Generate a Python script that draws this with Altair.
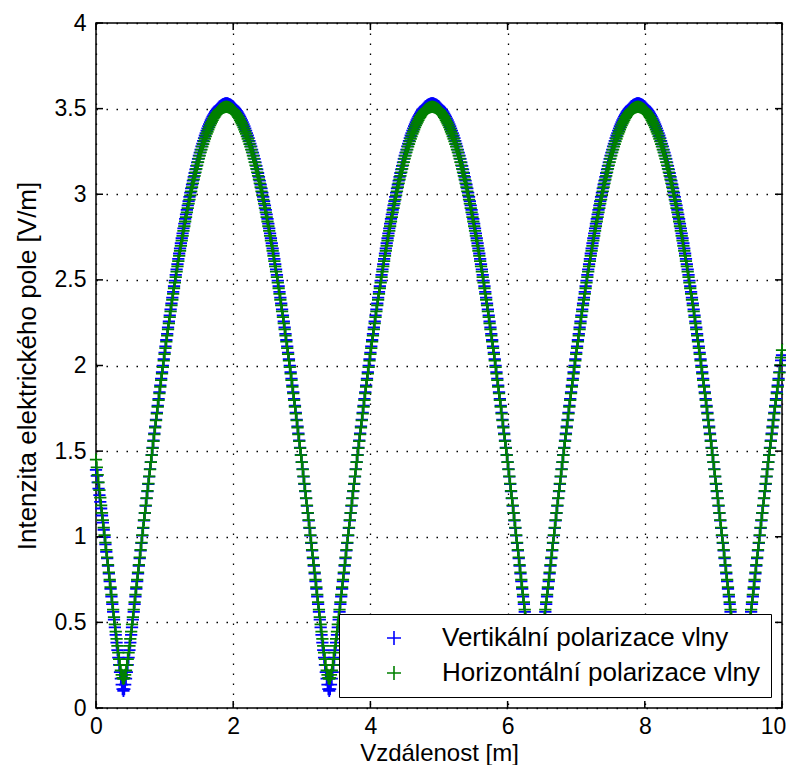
import altair as alt
import pandas as pd

# ---------------- data ----------------
STEP = 0.0125  # sampling step along x [m]

names = ["Vertikální polarizace vlny", "Horizontální polarizace vlny"]
colors = ["#0000ff", "#008000"]
x_ticks = [0, 2, 4, 6, 8, 10]
y_ticks = [0, 0.5, 1, 1.5, 2, 2.5, 3, 3.5, 4]

# ---- Vertical polarisation ----
# x = 0 .. 0.4 (falling into the first minimum)
vert_start = [1.390, 1.355, 1.318, 1.281, 1.243, 1.204, 1.165, 1.124, 1.083, 1.041, 0.998, 0.955, 0.912,
              0.874, 0.830, 0.785, 0.740, 0.696, 0.651, 0.606, 0.561, 0.516, 0.471, 0.427, 0.382, 0.338,
              0.294, 0.252, 0.210, 0.171, 0.136, 0.110, 0.100]
# minimum -> maximum (1.5 m)
vert_rise = [0.110, 0.136, 0.171, 0.210, 0.252, 0.294, 0.338, 0.382, 0.427, 0.471,
             0.516, 0.561, 0.606, 0.651, 0.696, 0.740, 0.785, 0.830, 0.874, 0.919,
             0.963, 1.007, 1.051, 1.095, 1.138, 1.180, 1.224, 1.265, 1.308, 1.351,
             1.395, 1.436, 1.478, 1.520, 1.562, 1.603, 1.644, 1.684, 1.725, 1.765,
             1.805, 1.844, 1.884, 1.923, 1.961, 1.999, 2.037, 2.075, 2.112, 2.149,
             2.185, 2.222, 2.257, 2.293, 2.328, 2.362, 2.396, 2.430, 2.463, 2.496,
             2.529, 2.561, 2.592, 2.623, 2.654, 2.684, 2.714, 2.743, 2.772, 2.801,
             2.829, 2.856, 2.883, 2.909, 2.935, 2.960, 2.985, 3.010, 3.034, 3.057,
             3.080, 3.102, 3.124, 3.145, 3.166, 3.186, 3.206, 3.225, 3.243, 3.261,
             3.279, 3.296, 3.312, 3.328, 3.343, 3.357, 3.371, 3.385, 3.398, 3.410,
             3.421, 3.432, 3.443, 3.453, 3.462, 3.471, 3.479, 3.487, 3.494, 3.500,
             3.506, 3.511, 3.515, 3.519, 3.522, 3.525, 3.527, 3.529, 3.530, 3.530]
# maximum -> minimum (1.5 m)
vert_fall = [3.530, 3.529, 3.527, 3.525, 3.522, 3.519, 3.515, 3.511, 3.506, 3.500,
             3.494, 3.487, 3.479, 3.471, 3.462, 3.453, 3.443, 3.432, 3.421, 3.410,
             3.398, 3.385, 3.371, 3.357, 3.343, 3.328, 3.312, 3.296, 3.279, 3.261,
             3.243, 3.225, 3.206, 3.186, 3.166, 3.145, 3.124, 3.102, 3.080, 3.057,
             3.034, 3.010, 2.985, 2.960, 2.935, 2.909, 2.883, 2.856, 2.829, 2.801,
             2.772, 2.743, 2.714, 2.684, 2.654, 2.623, 2.592, 2.561, 2.529, 2.496,
             2.463, 2.430, 2.396, 2.362, 2.328, 2.293, 2.257, 2.222, 2.185, 2.149,
             2.112, 2.075, 2.037, 1.999, 1.961, 1.923, 1.884, 1.844, 1.805, 1.765,
             1.725, 1.684, 1.644, 1.603, 1.562, 1.520, 1.478, 1.436, 1.395, 1.351,
             1.308, 1.265, 1.224, 1.180, 1.138, 1.095, 1.051, 1.007, 0.963, 0.919,
             0.874, 0.830, 0.785, 0.740, 0.696, 0.651, 0.606, 0.561, 0.516, 0.471,
             0.427, 0.382, 0.338, 0.294, 0.252, 0.210, 0.171, 0.136, 0.110, 0.100]
# x = 9.4125 .. 10 (last rise, cut by the axis)
vert_end = [0.110, 0.136, 0.171, 0.210, 0.252, 0.294, 0.338, 0.382, 0.427, 0.471,
            0.516, 0.561, 0.606, 0.651, 0.696, 0.740, 0.785, 0.830, 0.874, 0.919,
            0.963, 1.007, 1.051, 1.095, 1.138, 1.180, 1.224, 1.265, 1.308, 1.351,
            1.395, 1.436, 1.478, 1.520, 1.562, 1.603, 1.644, 1.684, 1.725, 1.765,
            1.805, 1.844, 1.884, 1.923, 1.961, 1.999, 2.030, 2.060]

# ---- Horizontal polarisation ----
horz_start = [1.450, 1.405, 1.361, 1.317, 1.272, 1.228, 1.183, 1.140, 1.097, 1.053, 1.010, 0.966, 0.923,
              0.880, 0.836, 0.792, 0.749, 0.705, 0.662, 0.618, 0.574, 0.531, 0.488, 0.446, 0.404, 0.363,
              0.323, 0.285, 0.250, 0.219, 0.193, 0.176, 0.170]
horz_rise = [0.176, 0.193, 0.219, 0.250, 0.285, 0.323, 0.363, 0.404, 0.446, 0.488,
             0.531, 0.574, 0.618, 0.662, 0.705, 0.749, 0.792, 0.836, 0.880, 0.923,
             0.966, 1.010, 1.053, 1.097, 1.140, 1.183, 1.225, 1.268, 1.310, 1.352,
             1.394, 1.436, 1.477, 1.518, 1.558, 1.598, 1.638, 1.679, 1.719, 1.759,
             1.798, 1.837, 1.876, 1.915, 1.953, 1.991, 2.028, 2.066, 2.102, 2.139,
             2.175, 2.211, 2.246, 2.282, 2.316, 2.351, 2.384, 2.418, 2.451, 2.484,
             2.516, 2.548, 2.579, 2.610, 2.640, 2.670, 2.699, 2.729, 2.757, 2.786,
             2.813, 2.841, 2.867, 2.894, 2.919, 2.945, 2.969, 2.994, 3.017, 3.041,
             3.063, 3.086, 3.107, 3.128, 3.148, 3.169, 3.188, 3.208, 3.226, 3.244,
             3.261, 3.278, 3.293, 3.309, 3.324, 3.338, 3.352, 3.365, 3.378, 3.390,
             3.402, 3.413, 3.423, 3.433, 3.443, 3.451, 3.459, 3.467, 3.474, 3.480,
             3.486, 3.491, 3.495, 3.499, 3.502, 3.505, 3.507, 3.509, 3.510, 3.510]
horz_fall = [3.510, 3.509, 3.507, 3.505, 3.502, 3.499, 3.495, 3.491, 3.486, 3.480,
             3.474, 3.467, 3.459, 3.451, 3.443, 3.433, 3.423, 3.413, 3.402, 3.390,
             3.378, 3.365, 3.352, 3.338, 3.324, 3.309, 3.293, 3.278, 3.261, 3.244,
             3.226, 3.208, 3.188, 3.169, 3.148, 3.128, 3.107, 3.086, 3.063, 3.041,
             3.017, 2.994, 2.969, 2.945, 2.919, 2.894, 2.867, 2.841, 2.813, 2.786,
             2.757, 2.729, 2.699, 2.670, 2.640, 2.610, 2.579, 2.548, 2.516, 2.484,
             2.451, 2.418, 2.384, 2.351, 2.316, 2.282, 2.246, 2.211, 2.175, 2.139,
             2.102, 2.066, 2.028, 1.991, 1.953, 1.915, 1.876, 1.837, 1.798, 1.759,
             1.719, 1.679, 1.638, 1.598, 1.558, 1.518, 1.477, 1.436, 1.394, 1.352,
             1.310, 1.268, 1.225, 1.183, 1.140, 1.097, 1.053, 1.010, 0.966, 0.923,
             0.880, 0.836, 0.792, 0.749, 0.705, 0.662, 0.618, 0.574, 0.531, 0.488,
             0.446, 0.404, 0.363, 0.323, 0.285, 0.250, 0.219, 0.193, 0.176, 0.170]
horz_end = [0.176, 0.193, 0.219, 0.250, 0.285, 0.323, 0.363, 0.404, 0.446, 0.488,
            0.531, 0.574, 0.618, 0.662, 0.705, 0.749, 0.792, 0.836, 0.880, 0.923,
            0.966, 1.010, 1.053, 1.097, 1.140, 1.183, 1.225, 1.268, 1.310, 1.352,
            1.394, 1.436, 1.477, 1.518, 1.558, 1.598, 1.638, 1.679, 1.719, 1.759,
            1.798, 1.837, 1.876, 1.915, 1.958, 2.002, 2.046, 2.090]

# three full periods between the first minimum (0.4 m) and the last one (9.4 m)
vertical = vert_start + (vert_rise + vert_fall) * 3 + vert_end
horizontal = horz_start + (horz_rise + horz_fall) * 3 + horz_end

# ---------------- table ----------------
rows = []
idx = 0
for name, ys in zip(names, [vertical, horizontal]):
    for i, v in enumerate(ys):
        rows.append({"x": round(i * STEP, 4), "y": v, "series": name, "idx": idx})
        idx += 1
df = pd.DataFrame(rows)

xt = pd.DataFrame({"x": x_ticks})
yt = pd.DataFrame({"y": y_ticks})

W, H = 686, 685
FONT = "Liberation Sans"
PLUS = "M-1,0H1M0,-1V1"
TL = 7  # inward tick length

x_axis = alt.Axis(values=x_ticks, format="d", title="Vzdálenost [m]", labelFlush=False,
                  labelOffset={"condition": {"test": "datum.value == 10", "value": -9}, "value": 0},
                  titleY=52, titleBaseline="alphabetic", titleFontSize=24, labelPadding=7)
y_axis = alt.Axis(values=y_ticks, format="~g", title="Intenzita elektrického pole [V/m]", labelFlush=False,
                  titleX=-61, titleY=H / 2, titleAngle=270, titleBaseline="alphabetic",
                  titleAlign="center", labelPadding=10)

x_enc = alt.X("x:Q", scale=alt.Scale(domain=[0, 10], nice=False, zero=False, padding=0), axis=x_axis)
y_enc = alt.Y("y:Q", scale=alt.Scale(domain=[0, 4], nice=False, zero=False, padding=0), axis=y_axis)

points = alt.Chart(df).mark_point(shape=PLUS, filled=False, size=150, strokeWidth=1.8, opacity=1).encode(
    x=x_enc,
    y=y_enc,
    color=alt.Color("series:N", scale=alt.Scale(domain=names, range=colors),
                    legend=alt.Legend(title=None, orient="none", legendX=243, legendY=591,
                                      fillColor="white", strokeColor="black", padding=11,
                                      symbolType=PLUS, symbolSize=196, symbolStrokeWidth=1.6,
                                      symbolOffset=31, labelOffset=35, rowPadding=9,
                                      labelFontSize=26, labelFont=FONT, labelColor="black",
                                      labelLimit=600)),
    order=alt.Order("idx:Q"),
)

rule_kw = dict(color="black", strokeWidth=1.5)
tick_bottom = alt.Chart(xt).mark_rule(**rule_kw).encode(x=x_enc, y=alt.value(H), y2=alt.value(H - TL))
tick_top = alt.Chart(xt).mark_rule(**rule_kw).encode(x=x_enc, y=alt.value(0), y2=alt.value(TL))
tick_left = alt.Chart(yt).mark_rule(**rule_kw).encode(y=y_enc, x=alt.value(0), x2=alt.value(TL))
tick_right = alt.Chart(yt).mark_rule(**rule_kw).encode(y=y_enc, x=alt.value(W), x2=alt.value(W - TL))

chart = alt.layer(points, tick_bottom, tick_top, tick_left, tick_right).properties(
    width=W, height=H,
    autosize=alt.AutoSizeParams(type="none"),
    padding={"left": 88, "top": 15, "right": 4, "bottom": 57},
    background="white",
).configure(font=FONT).configure_view(
    stroke="black", strokeWidth=1.5
).configure_axis(
    domain=False, ticks=False, tickSize=0,
    grid=True, gridColor="black", gridOpacity=1, gridWidth=1.3, gridDash=[1.5, 8.5],
    labelFont=FONT, labelFontSize=23, labelColor="black",
    titleFont=FONT, titleFontSize=26, titleFontWeight="normal", titleColor="black",
)

chart.save("out.html", embed_options={"renderer": "svg", "actions": False})
